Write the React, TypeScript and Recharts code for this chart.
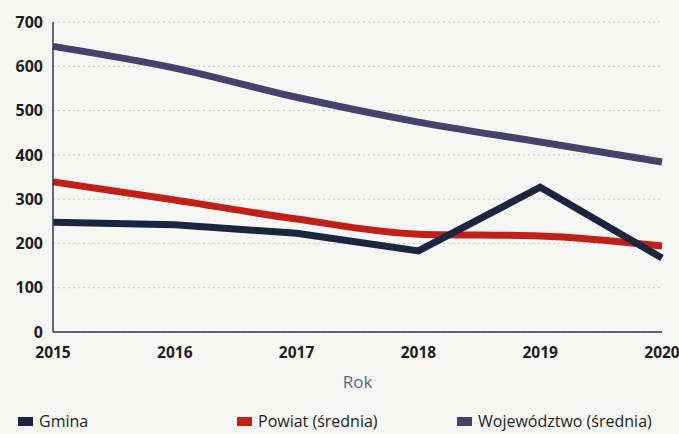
import React from "react";
import { CartesianGrid, Line, LineChart, XAxis, YAxis } from "recharts";

const years = ["2015", "2016", "2017", "2018", "2019", "2020"];
const gmina = [248, 242, 223, 183, 327, 167];
const powiat = [339, 298, 255, 221, 217, 194];
const wojewodztwo = [645, 596, 530, 474, 429, 384];
const yTicks = [0, 100, 200, 300, 400, 500, 600, 700];

const seriesInfo = [
  { key: "gmina", name: "Gmina", color: "#1b2540" },
  { key: "powiat", name: "Powiat (średnia)", color: "#c21f18" },
  { key: "woj", name: "Województwo (średnia)", color: "#45436d" },
];

const FONT = "'Open Sans', 'DejaVu Sans', sans-serif";

const data = years.map((y, i) => ({
  year: y,
  gmina: gmina[i],
  powiat: powiat[i],
  woj: wojewodztwo[i],
}));

const legendLeft = [18, 237, 457];

export default function App() {
  return (
    <div
      style={{
        position: "absolute",
        left: 0,
        top: 0,
        width: 679,
        height: 434,
        background: "#f6f6f4",
        fontFamily: FONT,
      }}
    >
      <LineChart
        width={679}
        height={434}
        data={data}
        margin={{ top: 22, right: 17, bottom: 0, left: 0 }}
      >
        <CartesianGrid vertical={false} stroke="#c9c9c9" strokeDasharray="2 3" />
        <XAxis
          dataKey="year"
          height={102}
          tickLine={false}
          axisLine={{ stroke: "#333a4d", strokeWidth: 1.5 }}
          tickSize={6}
          tickMargin={9}
          tick={{ fill: "#1e1e1e", fontSize: 15.5, fontWeight: 700, fontFamily: FONT }}
          label={{
            value: "Rok",
            position: "insideTop",
            offset: 44,
            fill: "#5a6a8c",
            fontSize: 17,
            fontFamily: FONT,
          }}
        />
        <YAxis
          width={53}
          domain={[0, 700]}
          ticks={yTicks}
          interval={0}
          tickLine={false}
          axisLine={{ stroke: "#333a4d", strokeWidth: 1.5 }}
          tickSize={6}
          tickMargin={4}
          tick={{ fill: "#1e1e1e", fontSize: 16, fontWeight: 700, fontFamily: FONT }}
        />
        <Line
          type="monotone"
          dataKey="woj"
          stroke={seriesInfo[2].color}
          strokeWidth={7}
          dot={false}
          isAnimationActive={false}
        />
        <Line
          type="monotone"
          dataKey="powiat"
          stroke={seriesInfo[1].color}
          strokeWidth={7}
          dot={false}
          isAnimationActive={false}
        />
        <Line
          type="linear"
          dataKey="gmina"
          stroke={seriesInfo[0].color}
          strokeWidth={7}
          dot={false}
          isAnimationActive={false}
        />
      </LineChart>
      {seriesInfo.map((s, i) => (
        <div
          key={s.key}
          style={{
            position: "absolute",
            left: legendLeft[i],
            top: 410,
            height: 22,
            lineHeight: "22px",
            display: "flex",
            alignItems: "center",
            fontSize: 16,
            color: "#1e1e1e",
            whiteSpace: "nowrap",
          }}
        >
          <span
            style={{
              display: "inline-block",
              width: 15,
              height: 9,
              background: s.color,
              marginRight: 6,
            }}
          />
          {s.name}
        </div>
      ))}
    </div>
  );
}
